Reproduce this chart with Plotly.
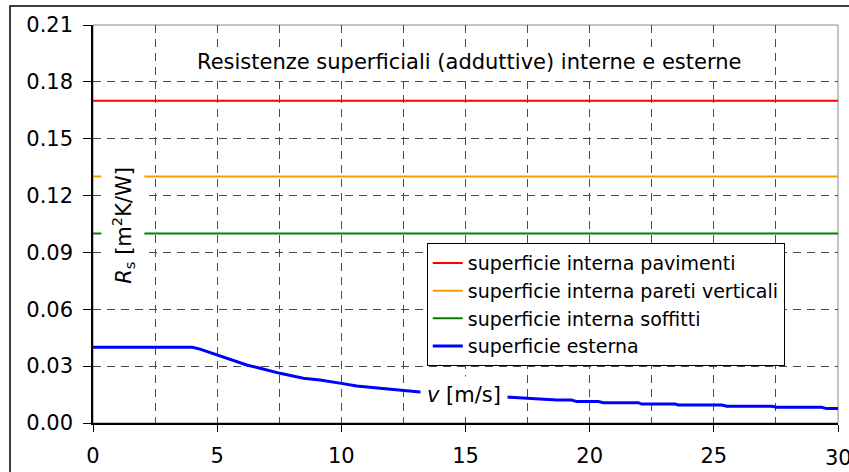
import plotly.graph_objects as go

# Data
x_const = [0, 30]
r_pavimenti = [0.17, 0.17]
r_pareti = [0.13, 0.13]
r_soffitti = [0.10, 0.10]

v_est = [0, 4, 4.31, 5.0, 5.52, 6.19, 6.73, 7.53, 8.47, 9.14, 10.0, 10.62, 11.56, 12.5,
         13.06, 14.0, 15.0, 16.0, 16.8, 17.47, 18.67, 19.27, 19.48, 20.35, 20.55, 21.96,
         22.09, 23.44, 23.57, 25.32, 25.52, 27.33, 27.53, 29.34, 29.55, 30]
r_est = [0.040, 0.040, 0.039, 0.0359, 0.0332, 0.0306, 0.0289, 0.0262, 0.0236, 0.0227,
         0.0209, 0.0195, 0.0183, 0.0174, 0.0165, 0.0155, 0.0146, 0.0140, 0.0136, 0.0130,
         0.0121, 0.0121, 0.0113, 0.0113, 0.0107, 0.0107, 0.0100, 0.0100, 0.0095, 0.0095,
         0.0088, 0.0088, 0.0083, 0.0083, 0.0076, 0.0076]

names = ["superficie interna pavimenti", "superficie interna pareti verticali",
         "superficie interna soffitti", "superficie esterna"]
colors = ["#ff0000", "#ff9900", "#008000", "#0000ff"]

title_text = "Resistenze superficiali (adduttive) interne e esterne"
x_ticks = [0, 5, 10, 15, 20, 25, 30]
y_ticks = [0.00, 0.03, 0.06, 0.09, 0.12, 0.15, 0.18, 0.21]

FONT = "DejaVu Sans"
GRID = "#4a4a4a"
FS = 21

fig = go.Figure()
for yv, nm, c in zip([r_pavimenti, r_pareti, r_soffitti], names[:3], colors[:3]):
    fig.add_trace(go.Scatter(x=x_const, y=yv, mode="lines", name=nm,
                             line=dict(color=c, width=2)))
fig.add_trace(go.Scatter(x=v_est, y=r_est, mode="lines", name=names[3],
                         line=dict(color=colors[3], width=3)))

fig.update_layout(
    width=849, height=472,
    margin=dict(l=93, r=11, t=25, b=49, autoexpand=False),
    paper_bgcolor="white", plot_bgcolor="white",
    font=dict(family=FONT, size=FS, color="black"),
    showlegend=True,
    legend=dict(x=0.448, y=0.452, xanchor="left", yanchor="top",
                bgcolor="white", bordercolor="black", borderwidth=1,
                font=dict(family=FONT, size=19), tracegroupgap=0,
                itemwidth=30),
)

fig.update_xaxes(
    range=[0, 30], tickvals=x_ticks, ticktext=[str(t) for t in x_ticks],
    showline=True, linecolor="black", linewidth=1.5, automargin=False,
    ticks="outside", ticklen=7, tickcolor="black", ticklabelstandoff=6,
    showgrid=True, gridcolor=GRID, gridwidth=1, griddash="8px,6px",
    minor=dict(dtick=2.5, tick0=0, showgrid=True, gridcolor=GRID, gridwidth=1,
               griddash="8px,6px"),
    zeroline=False, tickfont=dict(size=FS),
)
fig.update_yaxes(
    range=[0, 0.21], tickvals=y_ticks, ticktext=[f"{t:.2f}" for t in y_ticks],
    showline=True, linecolor="black", linewidth=1.5, automargin=False,
    ticks="outside", ticklen=8, tickcolor="black", ticklabelstandoff=6,
    showgrid=True, gridcolor=GRID, gridwidth=1, griddash="8px,6px",
    zeroline=False, tickfont=dict(size=FS),
)

# plot area border (light), and outer frame
fig.add_shape(type="rect", xref="paper", yref="paper", x0=0, y0=0, x1=1, y1=1,
              line=dict(color="#888888", width=1), layer="below")
fig.add_shape(type="rect", xref="paper", yref="paper", x0=-0.1114, y0=-0.2,
              x1=1.05, y1=1.0477, line=dict(color="black", width=1.5), layer="above")

fig.add_annotation(x=15.16, y=0.1905, xref="x", yref="y", text=title_text,
                   showarrow=False, font=dict(size=FS), bgcolor="white",
                   borderpad=2)
fig.add_annotation(x=1.2, y=0.1045, xref="x", yref="y",
                   text="<i>R</i><sub>s</sub> [m<sup>2</sup>K/W]", textangle=-90,
                   showarrow=False, font=dict(size=FS), bgcolor="white",
                   borderpad=6)
fig.add_annotation(x=14.94, y=0.0148, xref="x", yref="y",
                   text="<i>v</i> [m/s]", showarrow=False, font=dict(size=FS),
                   bgcolor="white", borderpad=6)
# last x tick label (partly cut by the page edge, as in the reference)
fig.add_annotation(x=x_ticks[-1], y=0, xref="x", yref="paper", text=str(x_ticks[-1]),
                   showarrow=False, font=dict(size=FS), yanchor="middle",
                   yshift=-35)

fig.write_html("out.html")
